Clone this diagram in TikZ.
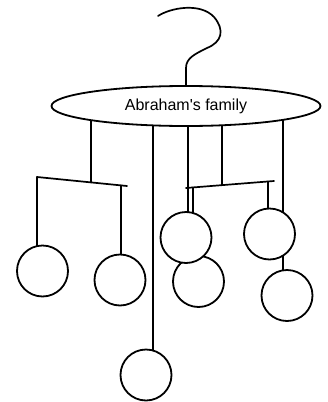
\documentclass[tikz,border=0pt]{standalone}
\usepackage{fontspec}
\setmainfont{Liberation Sans}
\usetikzlibrary{shapes.geometric,backgrounds}

\tikzset{
  wire/.style={line width=1.7pt, line cap=round, line join=round},
  ball/.style={circle, draw, fill=white, line width=1.8pt, minimum size=51pt, inner sep=0pt},
  hanger/.style={ellipse, draw, fill=white, line width=1.8pt, minimum width=269pt,
                 minimum height=40pt, inner sep=0pt, font=\fontsize{16}{19}\selectfont}
}

\begin{document}
\begin{tikzpicture}[x=1pt, y=-1pt]
  \useasboundingbox (0,0) rectangle (327,402);

  % the hanger bar with the family name
  \node[hanger] (ell) at (186,106) {Abraham\textquotesingle s family};

  % the hook on top
  \draw[wire] (158,16) .. controls (170,8) and (200,2) .. (214,17)
              .. controls (225,30) and (222,42) .. (207,48)
              .. controls (195,54) and (186,58) .. (186,68)
              -- (ell.north);

  % the balls (lower middle one sits behind the upper one)
  \node[ball] (c1) at (42.5,271) {};
  \node[ball] (c2) at (120,280) {};
  \node[ball] (c4) at (198.5,281.5) {};
  \node[ball] (c3) at (186,237.5) {};
  \node[ball] (c5) at (269.5,234) {};
  \node[ball] (c6) at (287,295.5) {};
  \node[ball] (c7) at (146,375) {};

  % attachment points under the hanger bar
  \coordinate (tL) at (91,112);
  \coordinate (tB) at (153,112);
  \coordinate (tM) at (188,112);
  \coordinate (tR) at (222,112);
  \coordinate (tE) at (283,112);

  % left cross bar and its joints
  \coordinate (bL1) at (37,177);
  \coordinate (bL2) at (127,186);
  \coordinate (jL) at (91,182.4);
  \coordinate (dL) at (121,185.4);

  % right cross bar and its joints
  \coordinate (bR1) at (186,188);
  \coordinate (bR2) at (274,181);
  \coordinate (jR) at (222,185.1);
  \coordinate (dM) at (193,187.4);
  \coordinate (dR) at (268,181.5);

  \begin{scope}[on background layer]
    % strings from the hanger
    \draw[wire] (tL) -- (jL);
    \draw[wire] (tB) -- (tB |- c7.center);
    \draw[wire] (tM) -- (tM |- c3.center);
    \draw[wire] (tR) -- (jR);
    \draw[wire] (tE) -- (tE |- c6.center);
    % cross bars
    \draw[wire] (bL1) -- (bL2);
    \draw[wire] (bR1) -- (bR2);
    % strings from the cross bars
    \draw[wire] (bL1) -- (bL1 |- c1.center);
    \draw[wire] (dL) -- (dL |- c2.center);
    \draw[wire] (dM) -- (dM |- c3.center);
    \draw[wire] (dR) -- (dR |- c5.center);
  \end{scope}
\end{tikzpicture}
\end{document}
